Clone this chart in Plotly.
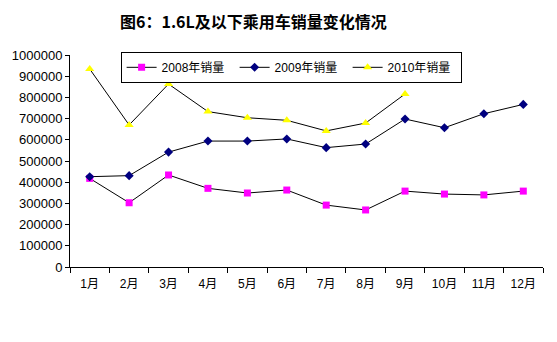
import plotly.graph_objects as go

months = ["1月", "2月", "3月", "4月", "5月", "6月", "7月", "8月", "9月", "10月", "11月", "12月"]
sales_2008 = [418000, 303000, 434000, 371000, 349000, 363000, 292000, 269000, 358000, 344000, 340000, 358000]
sales_2009 = [426000, 431000, 542000, 594000, 594000, 604000, 563000, 580000, 698000, 657000, 723000, 767000]
sales_2010 = [934000, 670000, 863000, 733000, 704000, 692000, 642000, 679000, 816000]
y_ticks = list(range(0, 1000001, 100000))

fig = go.Figure()
fig.add_trace(go.Scatter(x=months, y=sales_2008, name="2008年销量", mode="lines+markers",
                         line=dict(color="black", width=1),
                         marker=dict(symbol="square", size=7, color="#FF00FF")))
fig.add_trace(go.Scatter(x=months, y=sales_2009, name="2009年销量", mode="lines+markers",
                         line=dict(color="black", width=1),
                         marker=dict(symbol="diamond", size=7, color="#000080")))
fig.add_trace(go.Scatter(x=months[:len(sales_2010)], y=sales_2010, name="2010年销量", mode="lines+markers",
                         line=dict(color="black", width=1),
                         marker=dict(symbol="triangle-up", size=8, color="#FFFF00")))

fig.update_layout(
    width=557, height=342,
    margin=dict(l=66, r=14, t=55, b=75),
    paper_bgcolor="white", plot_bgcolor="white",
    font=dict(family="Arial, 'Noto Sans CJK SC'", size=12, color="black"),
    title=dict(text="<b>图6：1.6L及以下乘用车销量变化情况</b>",
               x=0.455, xanchor="center", y=0.935, yanchor="middle",
               font=dict(family="'Noto Sans CJK SC'", size=16, color="black")),
    showlegend=True,
    legend=dict(orientation="h", x=0.107, xanchor="left", y=1.015, yanchor="top",
                bordercolor="black", borderwidth=1, bgcolor="white",
                font=dict(size=12, family="Arial, 'Noto Sans CJK SC'"),
                entrywidth=68, itemwidth=30,
                tracegroupgap=0),
    xaxis=dict(type="category", categoryorder="array", categoryarray=months,
               range=[-0.5, 11.5], showline=True, linecolor="black", linewidth=1,
               ticks="outside", tickson="boundaries", ticklen=5, tickcolor="black",
               ticklabelstandoff=6,
               showgrid=False, zeroline=False, tickfont=dict(size=12)),
    yaxis=dict(range=[0, 1000000], tickvals=y_ticks, ticktext=[str(v) for v in y_ticks],
               showline=True, linecolor="black", linewidth=1,
               ticks="outside", ticklen=4, tickcolor="black",
               showgrid=False, zeroline=False, tickfont=dict(size=13)),
)

fig.write_html("out.html")
